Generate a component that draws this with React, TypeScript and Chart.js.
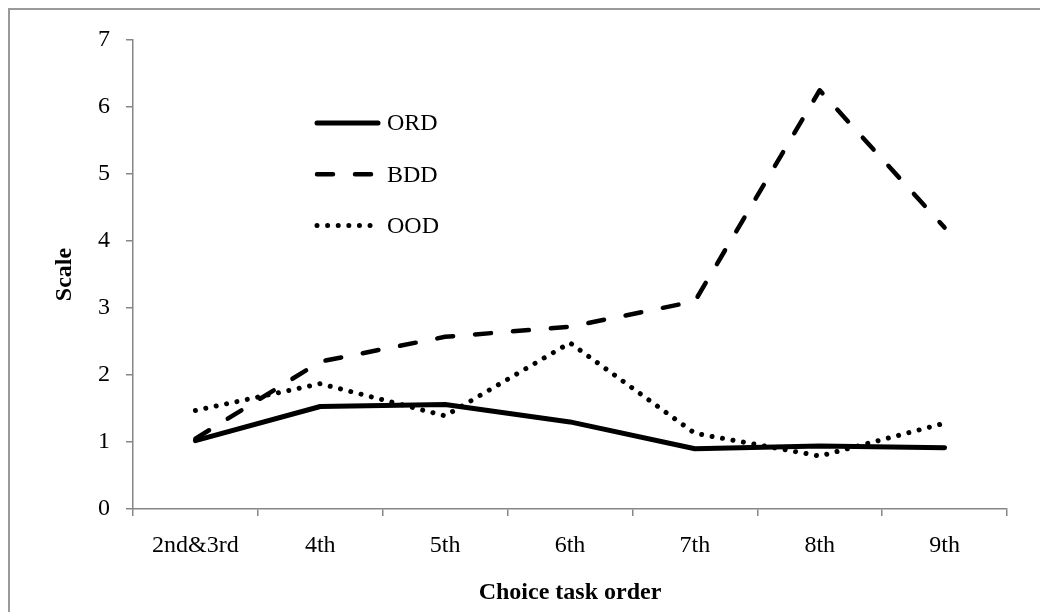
import React, { useEffect, useRef } from "react";
import { Chart, registerables } from "chart.js";

Chart.register(...registerables);

const categories = ["2nd&3rd", "4th", "5th", "6th", "7th", "8th", "9th"];
const ordValues = [1.02, 1.53, 1.56, 1.3, 0.9, 0.94, 0.915];
const bddValues = [1.05, 2.2, 2.57, 2.72, 3.1, 6.25, 4.2];
const oodValues = [1.47, 1.87, 1.39, 2.48, 1.13, 0.79, 1.28];
const seriesNames = ["ORD", "BDD", "OOD"];
const yMin = 0;
const yMax = 7;
const yStep = 1;
const xTitle = "Choice task order";
const yTitle = "Scale";

const FONT = "'Liberation Serif', 'Times New Roman', 'DejaVu Serif', serif";
const AXIS = "#868686";

const framePlugin = {
  id: "frame",
  beforeDraw(chart: any) {
    const ctx = chart.ctx;
    ctx.save();
    ctx.strokeStyle = "#9a9a9a";
    ctx.lineWidth = 2;
    ctx.beginPath();
    ctx.moveTo(9, chart.height);
    ctx.lineTo(9, 9);
    ctx.lineTo(chart.width, 9);
    ctx.stroke();
    ctx.restore();
  },
};

const legendPlugin = {
  id: "customLegend",
  afterDatasetsDraw(chart: any) {
    const ctx = chart.ctx;
    ctx.save();
    chart.data.datasets.forEach((ds: any, i: number) => {
      const y = 123 + i * 51.3;
      ctx.beginPath();
      ctx.strokeStyle = ds.borderColor;
      ctx.lineWidth = ds.borderWidth;
      ctx.lineCap = ds.borderCapStyle || "butt";
      ctx.setLineDash(ds.borderDash || []);
      ctx.moveTo(317, y);
      ctx.lineTo(378, y);
      ctx.stroke();
      ctx.setLineDash([]);
      ctx.fillStyle = "#000";
      ctx.font = `24px ${FONT}`;
      ctx.textAlign = "left";
      ctx.textBaseline = "middle";
      ctx.fillText(ds.label, 387, y + 1);
    });
    ctx.restore();
  },
};

export default function App() {
  const ref = useRef<HTMLCanvasElement | null>(null);
  useEffect(() => {
    if (!ref.current) return;
    const chart = new Chart(ref.current, {
      type: "line",
      data: {
        labels: categories,
        datasets: [
          {
            label: seriesNames[0],
            data: ordValues,
            borderColor: "#000",
            borderWidth: 5,
            borderCapStyle: "round",
            borderJoinStyle: "round",
            pointRadius: 0,
            tension: 0,
            fill: false,
          },
          {
            label: seriesNames[1],
            data: bddValues,
            borderColor: "#000",
            borderWidth: 4.5,
            borderCapStyle: "round",
            borderJoinStyle: "round",
            borderDash: [16, 22],
            pointRadius: 0,
            tension: 0,
            fill: false,
          },
          {
            label: seriesNames[2],
            data: oodValues,
            borderColor: "#000",
            borderWidth: 5,
            borderCapStyle: "round",
            borderJoinStyle: "round",
            borderDash: [0.01, 10.6],
            pointRadius: 0,
            tension: 0,
            fill: false,
          },
        ],
      },
      options: {
        responsive: false,
        animation: false,
        devicePixelRatio: 1,
        layout: { padding: { top: 40, right: 33, left: 0, bottom: 0 } },
        plugins: {
          legend: { display: false },
          tooltip: { enabled: false },
        },
        scales: {
          x: {
            type: "category",
            offset: true,
            grid: {
              offset: true,
              drawOnChartArea: false,
              drawTicks: true,
              tickLength: 7,
              color: AXIS,
              lineWidth: 1.5,
            },
            border: { display: true, color: AXIS, width: 1.5 },
            ticks: {
              color: "#000",
              font: { family: FONT, size: 24 },
              padding: 15,
              maxRotation: 0,
              autoSkip: false,
            },
            title: {
              display: true,
              text: xTitle,
              color: "#000",
              font: { family: FONT, size: 24, weight: "bold" },
              padding: { top: 0, bottom: 5 },
            },
            afterFit(scale: any) {
              scale.height = 103;
            },
          },
          y: {
            min: yMin,
            max: yMax,
            grid: {
              drawOnChartArea: false,
              drawTicks: true,
              tickLength: 7,
              color: AXIS,
              lineWidth: 1.5,
            },
            border: { display: true, color: AXIS, width: 1.5 },
            ticks: {
              stepSize: yStep,
              color: "#000",
              font: { family: FONT, size: 24 },
              padding: 16,
            },
            title: {
              display: true,
              text: yTitle,
              color: "#000",
              font: { family: FONT, size: 24, weight: "bold" },
              padding: { top: 50, bottom: 0 },
            },
            afterFit(scale: any) {
              scale.width = 133;
            },
          },
        },
      } as any,
      plugins: [framePlugin, legendPlugin],
    });
    return () => chart.destroy();
  }, []);
  return (
    <div style={{ position: "fixed", left: 0, top: 0, width: 1040, height: 612, background: "#fff" }}>
      <canvas ref={ref} width={1040} height={612} style={{ display: "block" }} />
    </div>
  );
}
